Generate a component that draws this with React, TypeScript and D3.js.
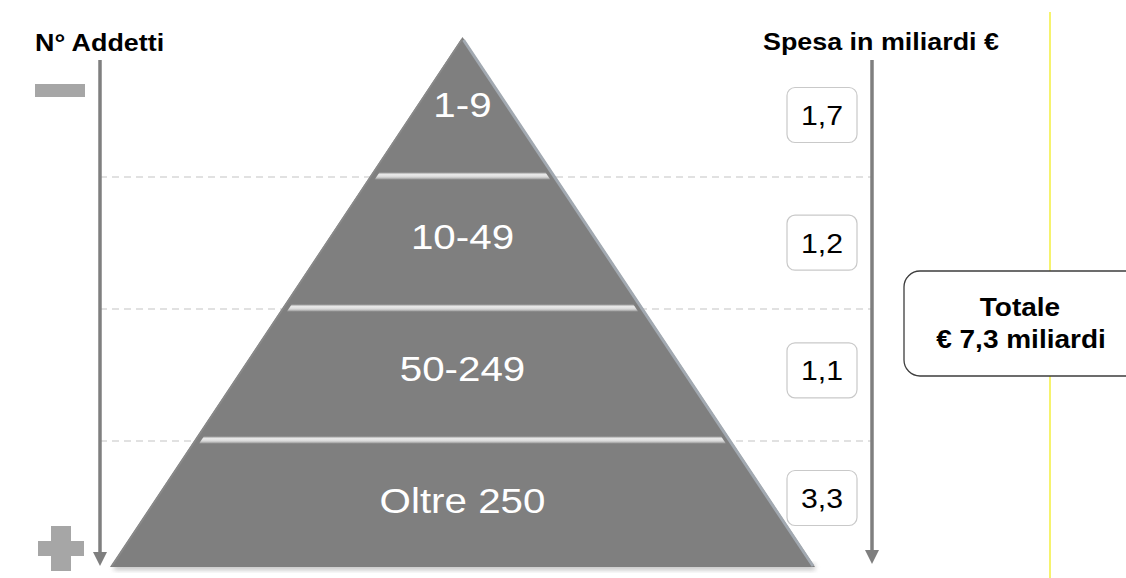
import React from "react";
import * as d3 from "d3";

// ---- data ----
const tiers: string[] = ["1-9", "10-49", "50-249", "Oltre 250"];
const spend: number[] = [1.7, 1.2, 1.1, 3.3];
const leftTitle = "N° Addetti";
const rightTitle = "Spesa in miliardi €";
const totalTitle = "Totale";
const totalUnit = "miliardi";

const W = 1126;
const H = 578;
const FONT = "'Liberation Sans', Arial, Helvetica, sans-serif";
const SX = 1.12; // horizontal stretch of glyphs in the reference

const itLocale = d3.formatLocale({ decimal: ",", thousands: ".", grouping: [3], currency: ["€ ", ""] });
const fmt = itLocale.format(".1f");

function SText(props: {
  x: number; y: number; size: number; weight?: string | number; fill?: string;
  anchor?: "start" | "middle" | "end"; children: React.ReactNode;
}) {
  const { x, y, size, weight = "normal", fill = "#000", anchor = "start", children } = props;
  return (
    <text
      transform={`translate(${x},${y}) scale(${SX},1)`}
      fontFamily={FONT}
      fontSize={size}
      fontWeight={weight}
      fill={fill}
      textAnchor={anchor}
    >
      {children}
    </text>
  );
}

export default function App() {
  // pyramid geometry
  const cx = 462.5;
  const apexY = 37;
  const baseY = 567;
  const halfBase = 352.5;
  const tierY = d3.scaleLinear().domain([0, tiers.length]).range([44, 572]);
  const boxY = d3.scalePoint<string>().domain(tiers).range([115, 498]);
  const half = (y: number) => ((y - apexY) / (baseY - apexY)) * halfBase;

  const tri = d3.line()([
    [cx, apexY],
    [cx + halfBase, baseY],
    [cx - halfBase, baseY],
  ]) + "Z";

  const separators = d3.range(1, tiers.length).map((i) => tierY(i));

  const leftArrowX = 100;
  const rightArrowX = 872;
  const arrowTop = 60;

  const boxX = 787;
  const boxW = 70;
  const boxH = 55;
  const total = d3.sum(spend);

  return (
    <svg
      width={W}
      height={H}
      viewBox={`0 0 ${W} ${H}`}
      style={{ position: "absolute", left: 0, top: 0, background: "#fff" }}
    >
      <defs>
        <linearGradient id="sepGrad" x1="0" y1="0" x2="0" y2="1">
          <stop offset="0%" stopColor="#a0a0a0" />
          <stop offset="30%" stopColor="#ebebeb" />
          <stop offset="65%" stopColor="#d8d8d8" />
          <stop offset="100%" stopColor="#949494" />
        </linearGradient>
        <filter id="shadow" x="-10%" y="-50%" width="120%" height="200%">
          <feGaussianBlur stdDeviation="2.5" />
        </filter>
      </defs>

      {/* yellow vertical line */}
      <line x1={1050} x2={1050} y1={12} y2={H} stroke="#f6f36e" strokeWidth={2} />

      {/* dashed tier lines */}
      {separators.map((y, i) => (
        <line
          key={"d" + i}
          x1={leftArrowX}
          x2={rightArrowX}
          y1={y + 1}
          y2={y + 1}
          stroke="#c4c4c4"
          strokeWidth={1.2}
          strokeDasharray="7,5"
        />
      ))}

      {/* pyramid shadow */}
      <rect
        x={cx - halfBase + 4}
        y={baseY - 3}
        width={halfBase * 2 - 4}
        height={6}
        fill="#9a9a9a"
        opacity={0.6}
        filter="url(#shadow)"
      />
      {/* pyramid */}
      <path d={tri} fill="#7f7f7f" />
      {/* bevels */}
      <line
        x1={cx + 1}
        y1={apexY + 3}
        x2={cx + halfBase - 2}
        y2={baseY - 1}
        stroke="#a2a9b1"
        strokeWidth={3}
      />
      <line
        x1={cx - 1}
        y1={apexY + 3}
        x2={cx - halfBase + 2}
        y2={baseY - 1}
        stroke="#8a8a8a"
        strokeWidth={1.5}
      />

      {/* separator bands */}
      {separators.map((y, i) => {
        const t = y - 3.5;
        const b = y + 3.5;
        const inset = 7;
        const pts: [number, number][] = [
          [cx - half(t) + inset, t],
          [cx + half(t) - inset, t],
          [cx + half(b) - inset, b],
          [cx - half(b) + inset, b],
        ];
        return <path key={"s" + i} d={d3.line()(pts) + "Z"} fill="url(#sepGrad)" />;
      })}

      {/* tier labels */}
      {tiers.map((t, i) => {
        const top = tierY(i);
        const bot = tierY(i + 1);
        return (
          <SText key={"t" + i} x={cx} y={bot - (bot - top) * 0.45} size={36} fill="#fff" anchor="middle">
            {t}
          </SText>
        );
      })}

      {/* value boxes */}
      {spend.map((v, i) => {
        const cy = boxY(tiers[i]) as number;
        return (
          <g key={"v" + i}>
            <rect
              x={boxX}
              y={cy - boxH / 2}
              width={boxW}
              height={boxH}
              rx={8}
              fill="#fff"
              stroke="#c9c9c9"
              strokeWidth={1.2}
            />
            <SText x={boxX + boxW / 2} y={cy + 10} size={27} anchor="middle">
              {fmt(v)}
            </SText>
          </g>
        );
      })}

      {/* arrows */}
      <line x1={leftArrowX} x2={leftArrowX} y1={arrowTop} y2={555} stroke="#7f7f7f" strokeWidth={3.5} />
      <path
        d={d3.line()([[leftArrowX - 7, 552], [leftArrowX + 7, 552], [leftArrowX, 566]]) + "Z"}
        fill="#7f7f7f"
      />
      <line x1={rightArrowX} x2={rightArrowX} y1={arrowTop} y2={553} stroke="#7f7f7f" strokeWidth={3.5} />
      <path
        d={d3.line()([[rightArrowX - 7, 550], [rightArrowX + 7, 550], [rightArrowX, 564]]) + "Z"}
        fill="#7f7f7f"
      />

      {/* minus / plus */}
      <rect x={35} y={84} width={50} height={13} fill="#a6a6a6" />
      <rect x={38} y={541} width={46} height={15} fill="#a6a6a6" />
      <rect x={51} y={526} width={20} height={45} fill="#a6a6a6" />

      {/* titles */}
      <SText x={35} y={51} size={24} weight="bold">{leftTitle}</SText>
      <SText x={763} y={50} size={24} weight="bold">{rightTitle}</SText>

      {/* total box */}
      <rect x={904} y={271} width={240} height={105} rx={16} fill="#fff" stroke="#3d3d3d" strokeWidth={1.3} />
      <SText x={1020} y={316} size={25} weight="bold" anchor="middle">{totalTitle}</SText>
      <SText x={1021} y={348} size={25} weight="bold" anchor="middle">
        {`€ ${fmt(total)} ${totalUnit}`}
      </SText>
    </svg>
  );
}
